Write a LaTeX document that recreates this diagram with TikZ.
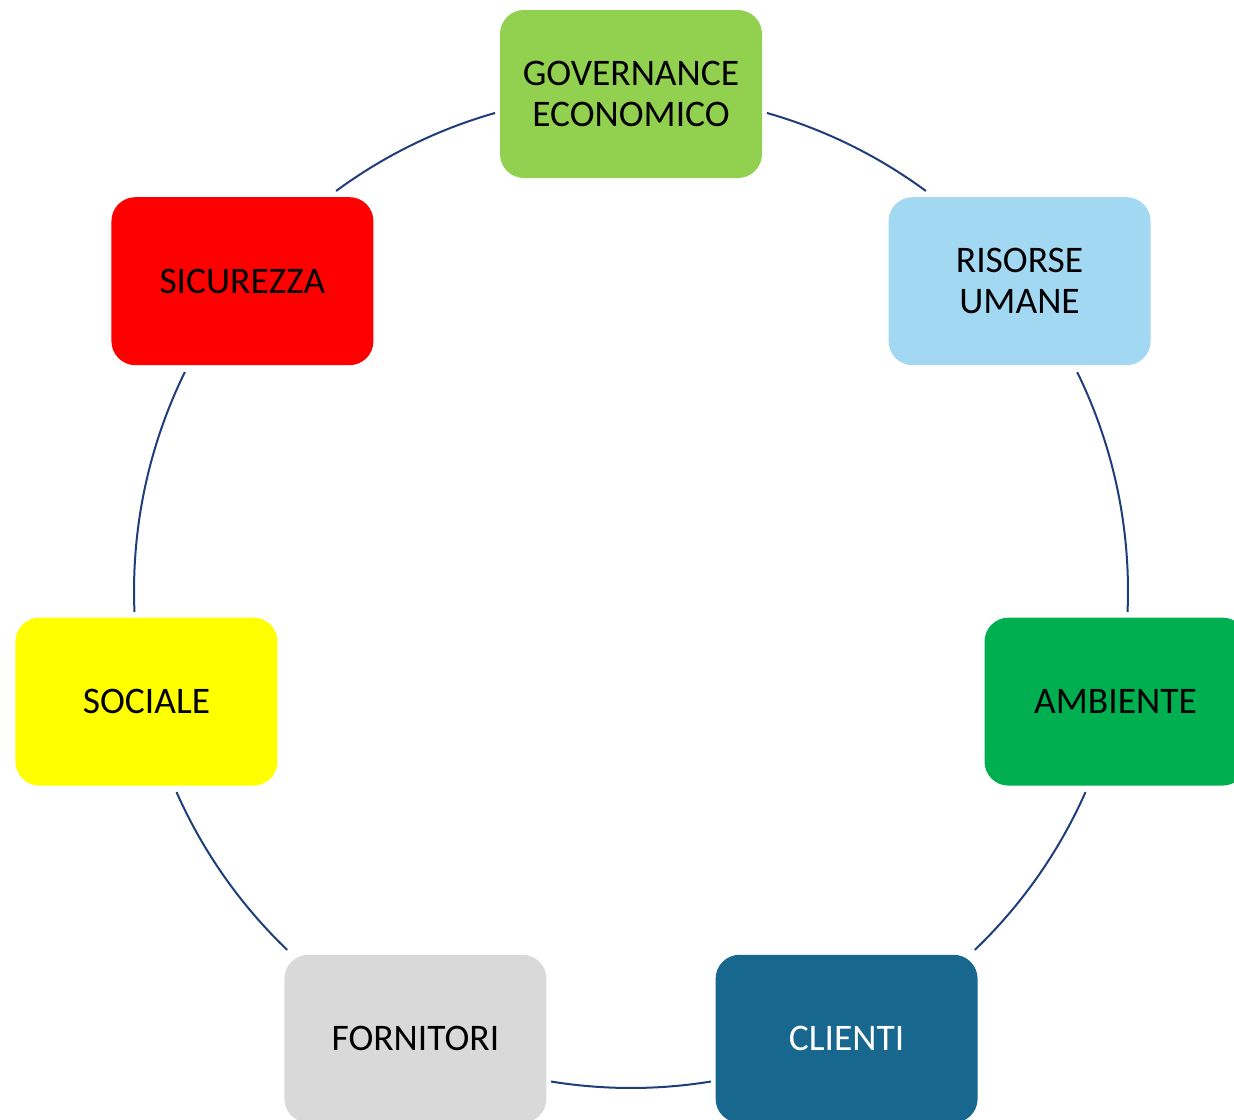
\documentclass[tikz,border=0pt]{standalone}
\usepackage{fontspec}
\setmainfont{Carlito}
\definecolor{govgreen}{HTML}{92D050}
\definecolor{hrblue}{HTML}{A3D8F3}
\definecolor{envgreen}{HTML}{00B050}
\definecolor{clientblue}{HTML}{17678F}
\definecolor{suppgray}{HTML}{D9D9D9}
\definecolor{socyellow}{HTML}{FFFF00}
\definecolor{secred}{HTML}{FF0000}
\definecolor{linkblue}{HTML}{1F3D7A}
\begin{document}
\begin{tikzpicture}[x=1pt,y=1pt,
  box/.style={rounded corners=24pt, minimum width=262pt, minimum height=168pt,
    inner sep=0pt, align=center, font=\fontsize{37.5}{41}\selectfont},
  link/.style={draw=linkblue, line width=2pt}]
\useasboundingbox (0,0) rectangle (1234,-1119);
\begin{scope}
\clip (0,0) rectangle (1234,-1119);
\coordinate (c) at (631,-591);
\node[box, fill=govgreen] (gov) at ([shift={(90:497)}]c) {GOVERNANCE\\ECONOMICO};
\node[box, fill=hrblue] (hr) at ([shift={(38.57:497)}]c) {RISORSE\\UMANE};
\node[box, fill=envgreen] (env) at ([shift={(-12.86:497)}]c) {AMBIENTE};
\node[box, fill=clientblue, text=white] (cli) at ([shift={(-64.29:497)}]c) {CLIENTI};
\node[box, fill=suppgray] (sup) at ([shift={(-115.71:497)}]c) {FORNITORI};
\node[box, fill=socyellow] (soc) at ([shift={(-167.14:497)}]c) {SOCIALE};
\node[box, fill=secred] (sec) at ([shift={(141.43:497)}]c) {SICUREZZA};
\end{scope}
\draw[link] ([shift={(74.12:497)}]c) arc[start angle=74.12, end angle=53.6, radius=497];
\draw[link] ([shift={(26.14:497)}]c) arc[start angle=26.14, end angle=-2.42, radius=497];
\draw[link] ([shift={(-23.86:497)}]c) arc[start angle=-23.86, end angle=-46.24, radius=497];
\draw[link] ([shift={(-80.74:497)}]c) arc[start angle=-80.74, end angle=-99.26, radius=497];
\draw[link] ([shift={(-133.76:497)}]c) arc[start angle=-133.76, end angle=-156.14, radius=497];
\draw[link] ([shift={(182.42:497)}]c) arc[start angle=182.42, end angle=153.86, radius=497];
\draw[link] ([shift={(126.4:497)}]c) arc[start angle=126.4, end angle=105.88, radius=497];
\end{tikzpicture}
\end{document}
